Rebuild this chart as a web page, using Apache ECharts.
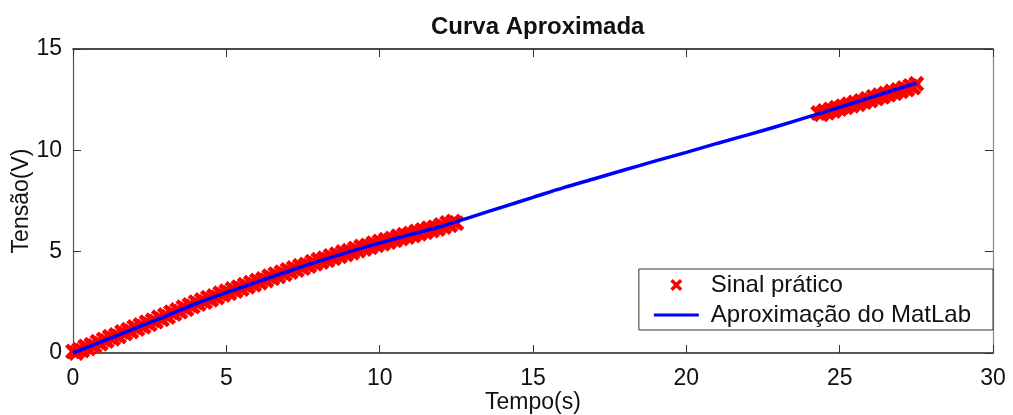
<!DOCTYPE html>
<html>
<head>
<meta charset="utf-8">
<title>Curva Aproximada</title>
<script src="https://cdn.jsdelivr.net/npm/echarts@6/dist/echarts.min.js"></script>
<style>
    html, body { margin: 0; padding: 0; background: #fff; }
    #chart { width: 1013px; height: 415px; }
</style>
</head>
<body>
<div id="chart"></div>
<script>
// pontos medidos (sinal pratico), primeiro trecho
const tempoPratico1 = [
    0.0, 0.1, 0.2, 0.3, 0.4, 0.5, 0.6, 0.7, 0.8, 0.9,
    1.0, 1.1, 1.2, 1.3, 1.4, 1.5, 1.6, 1.7, 1.8, 1.9,
    2.0, 2.1, 2.2, 2.3, 2.4, 2.5, 2.6, 2.7, 2.8, 2.9,
    3.0, 3.1, 3.2, 3.3, 3.4, 3.5, 3.6, 3.7, 3.8, 3.9,
    4.0, 4.1, 4.2, 4.3, 4.4, 4.5, 4.6, 4.7, 4.8, 4.9,
    5.0, 5.1, 5.2, 5.3, 5.4, 5.5, 5.6, 5.7, 5.8, 5.9,
    6.0, 6.1, 6.2, 6.3, 6.4, 6.5, 6.6, 6.7, 6.8, 6.9,
    7.0, 7.1, 7.2, 7.3, 7.4, 7.5, 7.6, 7.7, 7.8, 7.9,
    8.0, 8.1, 8.2, 8.3, 8.4, 8.5, 8.6, 8.7, 8.8, 8.9,
    9.0, 9.1, 9.2, 9.3, 9.4, 9.5, 9.6, 9.7, 9.8, 9.9,
    10.0, 10.1, 10.2, 10.3, 10.4, 10.5, 10.6, 10.7, 10.8, 10.9,
    11.0, 11.1, 11.2, 11.3, 11.4, 11.5, 11.6, 11.7, 11.8, 11.9,
    12.0, 12.1, 12.2, 12.3, 12.4, 12.5
];
const tensaoPratico1 = [
    0.08, 0.00, 0.16, 0.12, 0.32, 0.22, 0.41, 0.35, 0.56, 0.46,
    0.66, 0.59, 0.80, 0.70, 0.89, 0.82, 1.04, 0.96, 1.15, 1.06,
    1.28, 1.19, 1.38, 1.30, 1.52, 1.42, 1.61, 1.55, 1.76, 1.66,
    1.87, 1.78, 2.01, 1.93, 2.12, 2.04, 2.26, 2.16, 2.37, 2.29,
    2.51, 2.42, 2.61, 2.52, 2.73, 2.63, 2.81, 2.74, 2.95, 2.86,
    3.05, 2.95, 3.16, 3.06, 3.25, 3.16, 3.37, 3.27, 3.47, 3.37,
    3.58, 3.47, 3.65, 3.58, 3.79, 3.69, 3.89, 3.78, 3.98, 3.89,
    4.10, 4.00, 4.19, 4.09, 4.30, 4.19, 4.37, 4.29, 4.50, 4.40,
    4.60, 4.49, 4.67, 4.58, 4.79, 4.68, 4.87, 4.77, 4.98, 4.86,
    5.04, 4.95, 5.16, 5.05, 5.25, 5.13, 5.31, 5.22, 5.42, 5.32,
    5.50, 5.39, 5.59, 5.48, 5.65, 5.56, 5.76, 5.65, 5.84, 5.72,
    5.90, 5.80, 6.00, 5.89, 6.07, 5.96, 6.16, 6.04, 6.21, 6.12,
    6.32, 6.22, 6.42, 6.30, 6.49, 6.40
];
// segundo trecho
const tempoPratico2 = [
    24.3, 24.4, 24.5, 24.6, 24.7, 24.8, 24.9, 25.0, 25.1, 25.2,
    25.3, 25.4, 25.5, 25.6, 25.7, 25.8, 25.9, 26.0, 26.1, 26.2,
    26.3, 26.4, 26.5, 26.6, 26.7, 26.8, 26.9, 27.0, 27.1, 27.2,
    27.3, 27.4, 27.5
];
const tensaoPratico2 = [
    11.84, 11.78, 11.94, 11.86, 12.02, 11.94, 12.10, 12.04, 12.18, 12.12,
    12.28, 12.20, 12.36, 12.28, 12.44, 12.38, 12.54, 12.46, 12.64, 12.56,
    12.72, 12.64, 12.80, 12.74, 12.90, 12.82, 12.98, 12.92, 13.08, 13.00,
    13.18, 13.10, 13.28
];
// curva aproximada (MatLab)
const tempoAprox = [0, 1, 2, 3, 4, 5, 6, 7, 8, 9, 10, 11, 12, 13, 14, 15, 16, 17, 18, 19, 20, 21, 22, 23, 24, 25, 26, 27, 27.5];
const tensaoAprox = [0, 0.6, 1.2, 1.8, 2.43, 2.98, 3.5, 4.02, 4.52, 4.99, 5.43, 5.84, 6.24, 6.72, 7.2, 7.68, 8.16, 8.6, 9.04, 9.48, 9.9, 10.34, 10.76, 11.2, 11.66, 12.12, 12.6, 13.08, 13.32];

const xTicks = [0, 5, 10, 15, 20, 25, 30];
const yTicks = [0, 5, 10, 15];

const fonte = 'Liberation Sans, Arial, sans-serif';
const cruz = 'path://M0,2L2,0L5,3L8,0L10,2L7,5L10,8L8,10L5,7L2,10L0,8L3,5Z';
// linha fina no meio da caixa da legenda (pontinhos nos cantos so pra fixar a altura)
const tracoLegenda = 'path://M0,0L0.01,0L0.01,0.01ZM0,4.6L45,4.6L45,7.6L0,7.6ZM0,12L0.01,12L0.01,12.01Z';

const pratico = tempoPratico1.map((t, i) => [t, tensaoPratico1[i]])
    .concat(tempoPratico2.map((t, i) => [t, tensaoPratico2[i]]));
const aprox = tempoAprox.map((t, i) => [t, tensaoAprox[i]]);

const eixoX = (extra) => Object.assign({
    type: 'value',
    min: xTicks[0],
    max: xTicks[xTicks.length - 1],
    interval: xTicks[1] - xTicks[0],
    splitLine: { show: false },
    axisTick: { inside: true, length: 8, lineStyle: { color: '#333' } },
    axisLine: { onZero: false, lineStyle: { color: '#222', width: 1.5 } }
}, extra);

const eixoY = (extra) => Object.assign({
    type: 'value',
    min: yTicks[0],
    max: yTicks[yTicks.length - 1],
    interval: yTicks[1] - yTicks[0],
    splitLine: { show: false },
    axisTick: { inside: true, length: 8, lineStyle: { color: '#333' } },
    axisLine: { onZero: false, lineStyle: { color: '#555', width: 1.2 } }
}, extra);

const chart = echarts.init(document.getElementById('chart'));
chart.setOption({
    backgroundColor: '#fff',
    animation: false,
    title: {
        text: 'Curva Aproximada',
        left: 426,
        top: 10,
        textStyle: { fontFamily: fonte, fontSize: 24, fontWeight: 'bold', color: '#111' }
    },
    grid: { left: 73, right: 20, top: 49, bottom: 62, outerBoundsMode: 'none' },
    legend: {
        right: 20,
        top: 269,
        orient: 'vertical',
        itemWidth: 45,
        itemHeight: 12,
        itemGap: 6,
        padding: [4, 22, 3, 15],
        borderColor: '#333',
        borderWidth: 1,
        backgroundColor: '#fff',
        textStyle: { fontFamily: fonte, fontSize: 24, color: '#111', padding: [0, 0, 0, 7] },
        data: [
            { name: 'Sinal prático' },
            { name: 'Aproximação do MatLab', icon: tracoLegenda }
        ]
    },
    xAxis: [
        eixoX({
            position: 'bottom',
            name: 'Tempo(s)',
            nameLocation: 'middle',
            nameGap: 38,
            nameMoveOverlap: false,
            nameTextStyle: { fontFamily: fonte, fontSize: 23, color: '#111' },
            axisLabel: { margin: 14, fontFamily: fonte, fontSize: 23, color: '#111' }
        }),
        eixoX({
            position: 'top',
            axisLabel: { show: false },
            axisLine: { onZero: false, lineStyle: { color: '#111', width: 1.5 } }
        })
    ],
    yAxis: [
        eixoY({
            position: 'left',
            name: 'Tensão(V)',
            nameLocation: 'middle',
            nameGap: 40,
            nameMoveOverlap: false,
            nameTextStyle: { fontFamily: fonte, fontSize: 23, color: '#111' },
            axisLabel: { margin: 11, fontFamily: fonte, fontSize: 23, color: '#111' }
        }),
        eixoY({
            position: 'right',
            axisLabel: { show: false },
            axisLine: { onZero: false, lineStyle: { color: '#888', width: 1.2 } }
        })
    ],
    series: [
        {
            name: 'Sinal prático',
            type: 'scatter',
            data: pratico,
            symbol: cruz,
            symbolSize: 16,
            itemStyle: { color: '#ff0000', opacity: 1 },
            z: 2
        },
        {
            name: 'Aproximação do MatLab',
            type: 'line',
            data: aprox,
            smooth: 0.3,
            showSymbol: false,
            symbol: 'none',
            lineStyle: { color: '#0000ff', width: 3.5 },
            itemStyle: { color: '#0000ff' },
            z: 3
        }
    ]
});
</script>
</body>
</html>
